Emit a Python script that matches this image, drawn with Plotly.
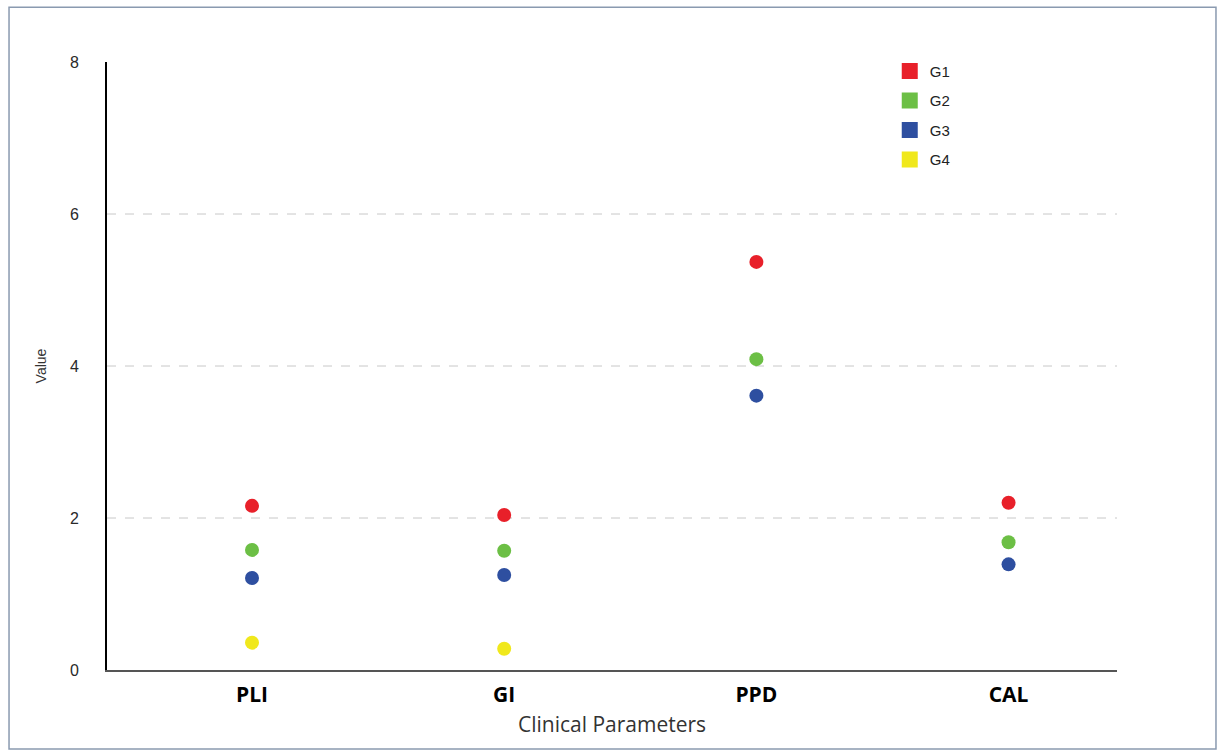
import plotly.graph_objects as go

categories = ["PLI", "GI", "PPD", "CAL"]
groups = ["G1", "G2", "G3", "G4"]
g1 = [2.16, 2.04, 5.37, 2.20]
g2 = [1.58, 1.57, 4.09, 1.68]
g3 = [1.21, 1.25, 3.61, 1.39]
g4 = [0.36, 0.28, None, None]
series = [g1, g2, g3, g4]
colors = ["#e8202a", "#6cbf45", "#2e4fa0", "#f0e81c"]
y_ticks = [0, 2, 4, 6, 8]
grid_vals = [2, 4, 6]

fig = go.Figure()
for name, vals, col in zip(groups, series, colors):
    fig.add_trace(go.Scatter(
        x=categories, y=vals, mode="markers", name=name,
        marker=dict(color=col, size=14, symbol="circle", line=dict(width=0)),
        showlegend=False,
    ))
for name, col in zip(groups, colors):
    fig.add_trace(go.Scatter(
        x=[None], y=[None], mode="markers", name=name, legendgroup=name,
        marker=dict(color=col, size=18, symbol="square"),
        showlegend=True,
    ))

shapes = []
for v in grid_vals:
    shapes.append(dict(type="line", xref="paper", yref="y", x0=0, x1=1, y0=v, y1=v,
                       line=dict(color="#c8c8c8", width=1, dash="dash"), layer="below"))
shapes.append(dict(type="rect", xref="paper", yref="paper",
                   x0=-0.097, x1=1.098, y0=-0.13, y1=1.09,
                   line=dict(color="#8a9ab0", width=1.5), layer="below"))

fig.update_layout(
    width=1219, height=753,
    margin=dict(l=107, r=102, t=62, b=83),
    paper_bgcolor="white", plot_bgcolor="white",
    shapes=shapes,
    xaxis=dict(
        type="category", categoryorder="array", categoryarray=categories,
        range=[-0.575, 3.43], showgrid=False, zeroline=False,
        showline=True, linecolor="#555555", linewidth=2,
        ticks="", ticklabelstandoff=5,
        tickfont=dict(family="Open Sans", size=21, color="black", weight="bold"),
        title=dict(text="Clinical Parameters", font=dict(family="Open Sans", size=21, color="#333333"), standoff=10),
    ),
    yaxis=dict(
        range=[0, 8], tickvals=y_ticks, showgrid=False, zeroline=False,
        showline=True, linecolor="black", linewidth=2, ticks="",
        ticklabelstandoff=23,
        tickfont=dict(family="Liberation Sans", size=16, color="#2a2a2a"),
        title=dict(text="Value", font=dict(family="Liberation Sans", size=14, color="#333333"), standoff=20),
    ),
    legend=dict(x=0.775, y=1.012, xanchor="left", yanchor="top",
                font=dict(family="Liberation Sans", size=15, color="#222222"),
                tracegroupgap=7, bgcolor="rgba(0,0,0,0)", itemwidth=30),
)

fig.write_html("out.html", config={"displayModeBar": False},
               post_script="document.body.style.margin='0';")
